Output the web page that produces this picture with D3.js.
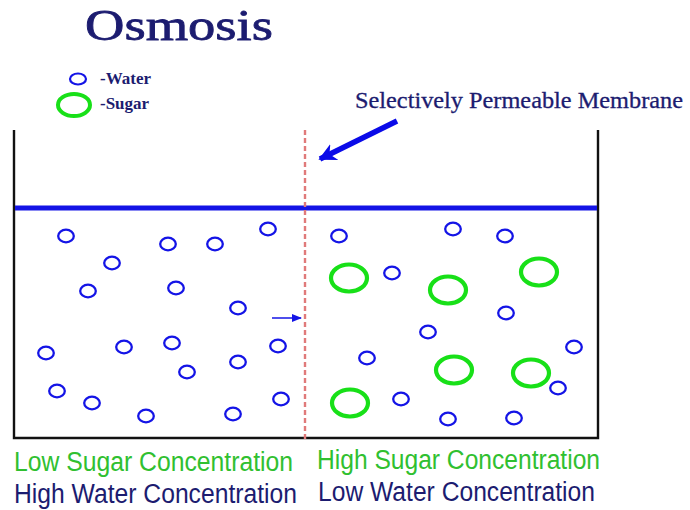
<!DOCTYPE html>
<html><head><meta charset="utf-8">
<script src="https://cdn.jsdelivr.net/npm/d3@7"></script>
<style>html,body{margin:0;padding:0;background:#fff;}svg{display:block;}</style>
</head><body>
<script>
// Positions in container units: x from left wall, y = depth below water surface
const waterX = [52,154,201,254,98,74,162,224,32,110,158,264,224,173,43,78,132,219,267,
                325,439,491,378,492,414,560,353,544,387,434,500];
const waterY = [28,36,36,21,55,83,80,100,145,139,135,138,154,164,183,195,208,206,191,
                28,21,28,65,105,124,139,150,180,191,211,210];
const sugarX = [335,434,525,440,517,336];
const sugarY = [70,82,64,162,165,195];
const membraneX = 291;
const legendLabels = ["-Water","-Sugar"];
const bottomLabels = ["Low Sugar Concentration","High Water Concentration","High Sugar Concentration","Low Water Concentration"];

const W = 690, H = 510;
const svg = d3.select("body").append("svg").attr("width", W).attr("height", H);
const x = d3.scaleLinear().domain([0, 584]).range([14, 598]);
const y = d3.scaleLinear().domain([0, 230]).range([208, 438]);
const navy = "#1c1c70", blue = "#1414e6", green = "#18e018", tgreen = "#30c030";

const defs = svg.append("defs");
defs.append("marker").attr("id","bigHead").attr("viewBox","0 0 10 10").attr("refX",9).attr("refY",5)
  .attr("markerWidth",3.2).attr("markerHeight",3.2).attr("markerUnits","strokeWidth").attr("orient","auto")
  .append("path").attr("d","M0,0L10,5L0,10L3,5Z").attr("fill","#0a0ae8");
defs.append("marker").attr("id","smallHead").attr("viewBox","0 0 10 10").attr("refX",9).attr("refY",5)
  .attr("markerWidth",7).attr("markerHeight",7).attr("markerUnits","strokeWidth").attr("orient","auto")
  .append("path").attr("d","M0,1L10,5L0,9Z").attr("fill",blue);

// Title
svg.append("text").attr("x", 85).attr("y", 40).text("Osmosis")
  .attr("font-family","Liberation Serif, serif").attr("font-size",44)
  .attr("fill",navy).attr("stroke",navy).attr("stroke-width",0.8)
  .attr("textLength",188).attr("lengthAdjust","spacingAndGlyphs");

// Legend
svg.append("ellipse").attr("cx",78).attr("cy",79).attr("rx",8).attr("ry",5.5)
  .attr("fill","none").attr("stroke",blue).attr("stroke-width",2.2);
svg.append("ellipse").attr("cx",74).attr("cy",105).attr("rx",16).attr("ry",11)
  .attr("fill","none").attr("stroke",green).attr("stroke-width",4);
svg.selectAll("text.leg").data(legendLabels).join("text").attr("class","leg")
  .attr("x",100).attr("y",(d,i)=> i===0 ? 84 : 109)
  .text(d=>d).attr("font-family","Liberation Serif, serif").attr("font-size",17).attr("font-weight","bold")
  .attr("fill",navy);

// Membrane label and arrow
svg.append("text").attr("x",355).attr("y",108).text("Selectively Permeable Membrane")
  .attr("font-family","Liberation Serif, serif").attr("font-size",23)
  .attr("fill",navy).attr("stroke",navy).attr("stroke-width",0.3)
  .attr("textLength",328).attr("lengthAdjust","spacingAndGlyphs");
svg.append("line").attr("x1",397).attr("y1",121).attr("x2",320).attr("y2",159)
  .attr("stroke","#0a0ae8").attr("stroke-width",5.5).attr("marker-end","url(#bigHead)");

// Container walls
svg.append("path")
  .attr("d", `M${x(0)},${y(-78)}L${x(0)},${y(230)}L${x(584)},${y(230)}L${x(584)},${y(-78)}`)
  .attr("fill","none").attr("stroke","#111").attr("stroke-width",2.4);

// Water surface
svg.append("line").attr("x1",x(1)).attr("x2",x(583)).attr("y1",y(0)).attr("y2",y(0))
  .attr("stroke",blue).attr("stroke-width",5);

// Membrane
svg.append("line").attr("x1",x(membraneX)).attr("x2",x(membraneX)).attr("y1",y(-78)).attr("y2",y(232))
  .attr("stroke","#e07a7a").attr("stroke-width",2.4).attr("stroke-dasharray","5,3");

// Small arrow toward membrane
svg.append("line").attr("x1",x(258)).attr("x2",x(287)).attr("y1",y(110)).attr("y2",y(110))
  .attr("stroke",blue).attr("stroke-width",1.5).attr("marker-end","url(#smallHead)");

// Water molecules
svg.selectAll("ellipse.water").data(waterX.map((d,i)=>({x:d,y:waterY[i]}))).join("ellipse")
  .attr("class","water").attr("cx",d=>x(d.x)).attr("cy",d=>y(d.y)).attr("rx",7.8).attr("ry",6.3)
  .attr("fill","none").attr("stroke",blue).attr("stroke-width",2.3);

// Sugar molecules
svg.selectAll("ellipse.sugar").data(sugarX.map((d,i)=>({x:d,y:sugarY[i]}))).join("ellipse")
  .attr("class","sugar").attr("cx",d=>x(d.x)).attr("cy",d=>y(d.y)).attr("rx",18).attr("ry",13.5)
  .attr("fill","none").attr("stroke",green).attr("stroke-width",4.2);

// Bottom labels
const bl = [
  {t:bottomLabels[0], x:14, y:471, w:279, c:tgreen},
  {t:bottomLabels[1], x:14, y:503, w:283, c:navy},
  {t:bottomLabels[2], x:317, y:469, w:283, c:tgreen},
  {t:bottomLabels[3], x:318, y:501, w:277, c:navy}
];
svg.selectAll("text.bot").data(bl).join("text").attr("class","bot")
  .attr("x",d=>d.x).attr("y",d=>d.y).text(d=>d.t).attr("fill",d=>d.c)
  .attr("font-family","Liberation Sans, Arial, sans-serif").attr("font-size",27)
  .attr("textLength",d=>d.w).attr("lengthAdjust","spacingAndGlyphs");
</script>
</body></html>
